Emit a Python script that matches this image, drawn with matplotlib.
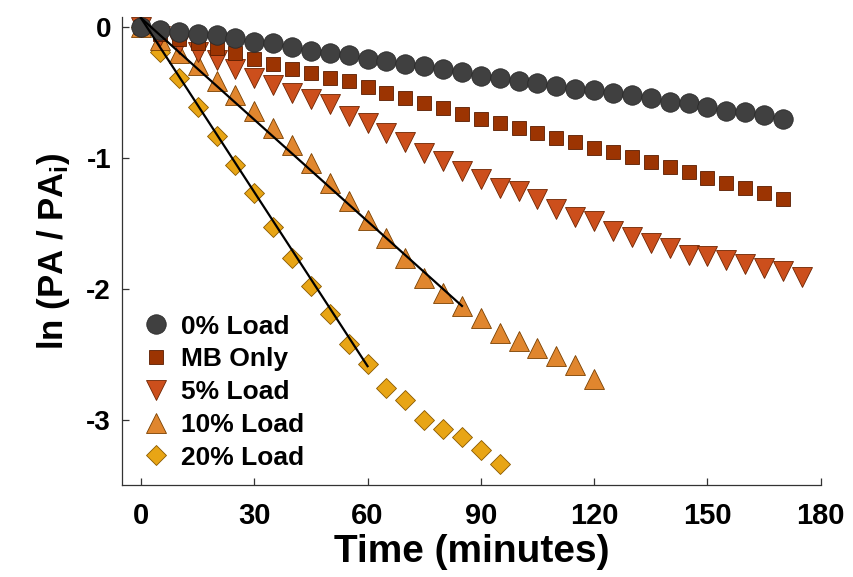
import matplotlib
matplotlib.use('Agg')
from matplotlib import pyplot as plt

plt.rcParams['axes.unicode_minus'] = False
plt.rcParams['mathtext.fontset'] = 'custom'
plt.rcParams['mathtext.rm'] = 'Liberation Sans:bold'
plt.rcParams['mathtext.it'] = 'Liberation Sans:bold'

# time points (minutes)
t_0 = list(range(0, 171, 5))
t_mb = list(range(0, 171, 5))
t_5 = list(range(0, 176, 5))
t_10 = list(range(0, 121, 5))
t_20 = list(range(0, 96, 5))

# ln(PA / PA_i)
load_0 = [0, -0.02, -0.04, -0.05, -0.06, -0.085, -0.11, -0.12, -0.15, -0.18,
          -0.20, -0.21, -0.24, -0.26, -0.28, -0.30, -0.32, -0.34, -0.37, -0.39,
          -0.41, -0.43, -0.45, -0.47, -0.48, -0.50, -0.52, -0.54, -0.57, -0.58,
          -0.61, -0.64, -0.65, -0.67, -0.70]
mb_only = [0, -0.05, -0.09, -0.12, -0.16, -0.20, -0.24, -0.28, -0.32, -0.35,
           -0.39, -0.41, -0.46, -0.50, -0.54, -0.58, -0.62, -0.66, -0.70, -0.73,
           -0.77, -0.81, -0.85, -0.88, -0.92, -0.95, -0.99, -1.03, -1.07, -1.11,
           -1.15, -1.19, -1.23, -1.27, -1.31]
load_5 = [0, -0.07, -0.13, -0.19, -0.25, -0.32, -0.39, -0.44, -0.50, -0.55,
          -0.59, -0.68, -0.73, -0.81, -0.88, -0.96, -1.02, -1.10, -1.16, -1.23,
          -1.25, -1.31, -1.39, -1.45, -1.48, -1.56, -1.60, -1.65, -1.69, -1.74,
          -1.75, -1.78, -1.81, -1.84, -1.86, -1.91]
load_10 = [0, -0.10, -0.20, -0.29, -0.41, -0.52, -0.64, -0.77, -0.90, -1.04,
           -1.19, -1.33, -1.47, -1.61, -1.76, -1.92, -2.03, -2.13, -2.22, -2.34,
           -2.40, -2.45, -2.51, -2.58, -2.69]
load_20 = [0, -0.19, -0.39, -0.61, -0.83, -1.05, -1.27, -1.53, -1.76, -1.98,
           -2.19, -2.42, -2.57, -2.76, -2.85, -3.00, -3.07, -3.13, -3.23, -3.34]

# linear fits
fit_10_t = [0, 85]
fit_10_y = [0.07, -2.13]
fit_20_t = [0, 60]
fit_20_y = [0.07, -2.59]

fig = plt.figure(figsize=(8.54, 5.77), dpi=100)
ax = fig.add_axes([0.143, 0.159, 0.818, 0.812])

ax.plot(t_20, load_20, 'D', ms=10.5, mfc='#e8a515', mec='#8a5a00', mew=0.6,
        label='20% Load', zorder=2)
ax.plot(t_10, load_10, '^', ms=14, mfc='#e0862e', mec='#7a4000', mew=0.6,
        label='10% Load', zorder=3)
ax.plot(t_5, load_5, 'v', ms=14, mfc='#cc4f1c', mec='#6e2400', mew=0.6,
        label='5% Load', zorder=4)
ax.plot(t_mb, mb_only, 's', ms=10.5, mfc='#9c3402', mec='#5a1c00', mew=0.6,
        label='MB Only', zorder=5)
ax.plot(t_0, load_0, 'o', ms=14, mfc='#404040', mec='#2a2a2a', mew=0.6,
        label='0% Load', zorder=6)
ax.plot(fit_10_t, fit_10_y, c='black', lw=1.6, zorder=7)
ax.plot(fit_20_t, fit_20_y, c='black', lw=1.6, zorder=7)

ax.set_xlim(-5, 180)
ax.set_ylim(-3.5, 0.08)
ax.set_xticks([0, 30, 60, 90, 120, 150, 180])
ax.set_yticks([-3, -2, -1, 0])

for s in ['top', 'right']:
    ax.spines[s].set_visible(False)
for s in ['left', 'bottom']:
    ax.spines[s].set_color('#333333')
    ax.spines[s].set_linewidth(0.9)
ax.tick_params(direction='in', length=5, width=0.9, color='#333333')
ax.tick_params(axis='x', pad=12)
ax.tick_params(axis='y', pad=8)

for lab in ax.get_xticklabels():
    lab.set_family('Liberation Sans')
    lab.set_fontweight('bold')
    lab.set_fontsize(21)
for lab in ax.get_yticklabels():
    lab.set_family('Liberation Sans')
    lab.set_fontweight('bold')
    lab.set_fontsize(20)

ax.set_xlabel('Time (minutes)', fontsize=28, fontweight='bold',
              family='Liberation Sans', labelpad=3)
ax.set_ylabel(r'ln (PA / PA$_{\mathrm{i}}$)', fontsize=25, fontweight='bold',
              family='Liberation Sans', labelpad=10)

handles, labels = ax.get_legend_handles_labels()
order = [4, 3, 2, 1, 0]
ax.legend([handles[i] for i in order], [labels[i] for i in order],
          loc='upper left', bbox_to_anchor=(0.03, 0.364), frameon=False,
          borderpad=0, borderaxespad=0, handlelength=1.0, handletextpad=0.45,
          labelspacing=0.33, prop={'family': 'Liberation Sans',
                                   'weight': 'bold', 'size': 19})

plt.savefig('out.png', dpi=100)
